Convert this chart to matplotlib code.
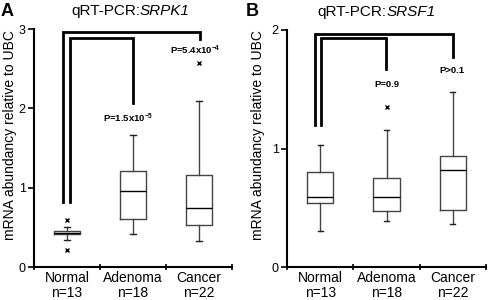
import matplotlib
matplotlib.use("Agg")
import matplotlib.pyplot as plt

plt.rcParams['font.family'] = ['Liberation Sans', 'DejaVu Sans']
plt.rcParams['mathtext.fontset'] = 'custom'
plt.rcParams['mathtext.rm'] = 'Liberation Sans'
plt.rcParams['mathtext.it'] = 'Liberation Sans:italic'
plt.rcParams['mathtext.bf'] = 'Liberation Sans:bold'

groups = ['Normal', 'Adenoma', 'Cancer']
counts = [13, 18, 22]

# panel A: SRPK1  (whislo, q1, med, q3, whishi)
srpk1_whislo = [0.34, 0.42, 0.33]
srpk1_q1 = [0.42, 0.61, 0.53]
srpk1_med = [0.43, 0.96, 0.75]
srpk1_q3 = [0.45, 1.21, 1.16]
srpk1_whishi = [0.51, 1.66, 2.09]
srpk1_fliers = [[0.59, 0.21], [], [2.57]]

# panel B: SRSF1
srsf1_whislo = [0.30, 0.39, 0.36]
srsf1_q1 = [0.54, 0.47, 0.48]
srsf1_med = [0.59, 0.59, 0.82]
srsf1_q3 = [0.80, 0.75, 0.94]
srsf1_whishi = [1.03, 1.16, 1.48]
srsf1_fliers = [[], [1.35], []]

# brackets: (x_left, x_right, y_top, y_drop, y_low)
srpk1_brackets = [(0.94, 3.01, 2.96, 2.87, 0.82), (1.05, 2.00, 2.89, 2.07, 0.82)]
srsf1_brackets = [(0.92, 3.00, 1.97, 1.77, 1.20), (1.01, 1.99, 1.93, 1.67, 1.20)]

srpk1_pvals = [(1.92, 1.87, r'P=1.5x10$^{\mathbf{-5}}$'),
               (2.95, 2.73, r'P=5.4x10$^{\mathbf{-4}}$')]
srsf1_pvals = [(2.0, 1.54, 'P=0.9'), (2.98, 1.66, 'P>0.1')]

fig = plt.figure(figsize=(4.88, 3.0), dpi=100)
axA = fig.add_axes([34/488, 0.11, 198/488, 238/300])
axB = fig.add_axes([287/488, 0.11, 199/488, 237/300])


def draw_panel(ax, whislo, q1, med, q3, whishi, fliers, ymax, brackets, pvals,
               gene, labelx, split):
    stats = []
    for i in range(len(groups)):
        stats.append(dict(whislo=whislo[i], q1=q1[i], med=med[i], q3=q3[i],
                          whishi=whishi[i], fliers=fliers[i]))
    ax.bxp(stats, positions=[1, 2, 3], widths=0.4, showfliers=True,
           boxprops=dict(color='#444444', lw=1.0),
           whiskerprops=dict(color='#444444', lw=1.0),
           capprops=dict(color='#222222', lw=1.0),
           medianprops=dict(color='black', lw=1.0),
           flierprops=dict(marker='x', markersize=3.5, markeredgecolor='black',
                           markeredgewidth=1.0, linestyle='none'),
           capwidths=0.08)
    for xl, xr, yt, yd, yl in brackets:
        ax.plot([xl, xl, xr, xr], [yl, yt, yt, yd], color='black', lw=2.0,
                solid_joinstyle='miter', clip_on=False)
    for x, y, s in pvals:
        ax.text(x, y, s, ha='center', va='center', fontsize=6.8,
                fontweight='bold')
    ax.set_xlim(0.5, 3.5)
    ax.set_ylim(0, ymax)
    ax.set_yticks(range(0, ymax + 1))
    ax.set_xticks([0.5, 1.5, 2.5, 3.5])
    ax.set_xticklabels([])
    ax.set_xticks([1, 2, 3], minor=True)
    ax.set_xticklabels(['%s\nn=%d' % (g, n) for g, n in zip(groups, counts)],
                       minor=True, fontsize=10, linespacing=1.05)
    ax.tick_params(axis='x', which='minor', length=0, pad=3)
    ax.tick_params(axis='x', which='major', direction='inout', length=5,
                   width=1.2)
    ax.tick_params(axis='y', length=4, width=1.2, labelsize=9, pad=2)
    for side in ['top', 'right']:
        ax.spines[side].set_visible(False)
    for side in ['left', 'bottom']:
        ax.spines[side].set_linewidth(1.5)
    ax.set_ylabel('mRNA abundancy relative to UBC', fontsize=10)
    ax.yaxis.set_label_coords(labelx, 0.555)
    # title: plain prefix + italic gene name
    ax.text(split, 1.075, 'qRT-PCR:', transform=ax.transAxes, ha='right',
            va='center', fontsize=11)
    ax.text(split, 1.075, gene, transform=ax.transAxes, ha='left',
            va='center', fontsize=11, fontstyle='italic')


draw_panel(axA, srpk1_whislo, srpk1_q1, srpk1_med, srpk1_q3, srpk1_whishi,
           srpk1_fliers, 3, srpk1_brackets, srpk1_pvals, 'SRPK1', -0.085, 0.535)
draw_panel(axB, srsf1_whislo, srsf1_q1, srsf1_med, srsf1_q3, srsf1_whishi,
           srsf1_fliers, 2, srsf1_brackets, srsf1_pvals, 'SRSF1', -0.11, 0.50)

fig.text(1/488, 1 - 11/300, 'A', fontsize=13, fontweight='bold', va='center')
fig.text(246/488, 1 - 11/300, 'B', fontsize=13, fontweight='bold', va='center')

fig.savefig('out.png', dpi=100)
